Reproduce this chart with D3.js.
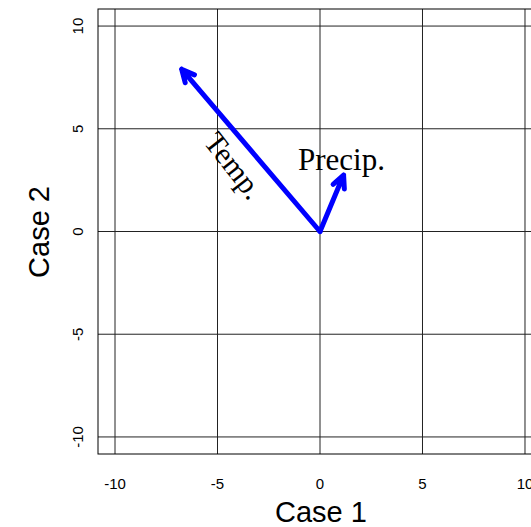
<!DOCTYPE html>
<html>
<head>
<meta charset="utf-8">
<script src="https://cdn.jsdelivr.net/npm/d3@7"></script>
<style>
  body { margin: 0; background: #fff; }
  svg { display: block; }
</style>
</head>
<body>
<svg id="drawing_region"></svg>
<script>
// loadings of the two variables on the two cases
const varNames = ["Temp.", "Precip."];
const case1 = [-6.75, 1.15];
const case2 = [7.9, 2.75];
const ticks = [-10, -5, 0, 5, 10];

const width = 531, height = 527;
const box = {left: 98, top: 9, right: 542, bottom: 454};

const svg = d3.select("#drawing_region")
    .attr("width", width)
    .attr("height", height);

const xscale = d3.scaleLinear().domain([-10.83, 10.83]).range([box.left, box.right]);
const yscale = d3.scaleLinear().domain([-10.83, 10.83]).range([box.bottom, box.top]);

// grid
svg.append("g").selectAll("line")
    .data(ticks).enter().append("line")
    .attr("x1", d => xscale(d)).attr("x2", d => xscale(d))
    .attr("y1", box.top).attr("y2", box.bottom)
    .attr("stroke", "#222").attr("stroke-width", 1);
svg.append("g").selectAll("line")
    .data(ticks).enter().append("line")
    .attr("y1", d => yscale(d)).attr("y2", d => yscale(d))
    .attr("x1", box.left).attr("x2", box.right)
    .attr("stroke", "#222").attr("stroke-width", 1);

svg.append("rect")
    .attr("x", box.left).attr("y", box.top)
    .attr("width", box.right - box.left).attr("height", box.bottom - box.top)
    .attr("fill", "none").attr("stroke", "#000").attr("stroke-width", 1);

// tick labels
svg.append("g").selectAll("text")
    .data(ticks).enter().append("text")
    .attr("x", d => xscale(d)).attr("y", 489)
    .attr("text-anchor", "middle")
    .attr("font-family", "Liberation Sans, Arial, sans-serif")
    .attr("font-size", "15px")
    .text(d => d);
svg.append("g").selectAll("text")
    .data(ticks).enter().append("text")
    .attr("transform", d => `translate(83, ${yscale(d)}) rotate(-90)`)
    .attr("text-anchor", "middle")
    .attr("font-family", "Liberation Sans, Arial, sans-serif")
    .attr("font-size", "15px")
    .text(d => d);

// axis titles
svg.append("text")
    .attr("x", 321).attr("y", 521.5)
    .attr("text-anchor", "middle")
    .attr("font-family", "Liberation Sans, Arial, sans-serif")
    .attr("font-size", "29px")
    .text("Case 1");
svg.append("text")
    .attr("transform", `translate(49, 232) rotate(-90)`)
    .attr("text-anchor", "middle")
    .attr("font-family", "Liberation Sans, Arial, sans-serif")
    .attr("font-size", "29px")
    .text("Case 2");

// arrows
const arrows = varNames.map((n, i) => ({name: n, x: case1[i], y: case2[i]}));
const x0 = xscale(0), y0 = yscale(0);
const headLen = 14, headAng = Math.PI / 7;

arrows.forEach(d => {
    const x1 = xscale(d.x), y1 = yscale(d.y);
    const ang = Math.atan2(y1 - y0, x1 - x0);
    const p1 = [x1 - headLen * Math.cos(ang - headAng), y1 - headLen * Math.sin(ang - headAng)];
    const p2 = [x1 - headLen * Math.cos(ang + headAng), y1 - headLen * Math.sin(ang + headAng)];
    svg.append("path")
        .attr("d", `M${x0},${y0}L${x1},${y1}M${p1[0]},${p1[1]}L${x1},${y1}L${p2[0]},${p2[1]}`)
        .attr("fill", "none")
        .attr("stroke", "#0000ff")
        .attr("stroke-width", 5)
        .attr("stroke-linecap", "round")
        .attr("stroke-linejoin", "round");
});

// labels
svg.append("text")
    .attr("transform", `translate(226, 172) rotate(52)`)
    .attr("text-anchor", "middle")
    .attr("font-family", "Liberation Serif, Times New Roman, serif")
    .attr("font-size", "30px")
    .text(varNames[0]);
svg.append("text")
    .attr("x", 298).attr("y", 169.5)
    .attr("text-anchor", "start")
    .attr("font-family", "Liberation Serif, Times New Roman, serif")
    .attr("font-size", "31px")
    .text(varNames[1]);
</script>
</body>
</html>
